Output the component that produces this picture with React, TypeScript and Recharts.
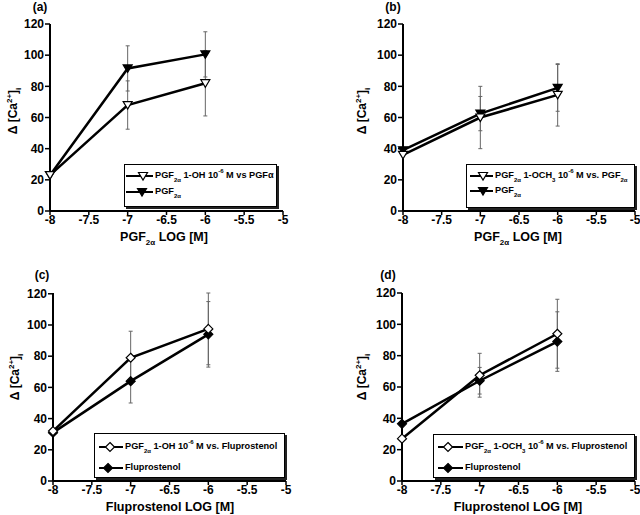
import { LineChart, Line, XAxis, YAxis, ErrorBar } from 'recharts';
import type { ReactNode, CSSProperties } from 'react';

const DOSES = [-8, -7, -6];
const X_TICKS = [-8, -7.5, -7, -6.5, -6, -5.5, -5];
const Y_TICKS = [0, 20, 40, 60, 80, 100, 120];

// (a) PGF2α 1-OH vs PGF2α
const A_OPEN = [23, 68, 82];
const A_OPEN_ERR = [0, 15.5, 21];
const A_FILLED = [23, 91.5, 100.5];
const A_FILLED_ERR = [0, 14.5, 14.5];

// (b) PGF2α 1-OCH3 vs PGF2α
const B_OPEN = [36, 60, 74.5];
const B_OPEN_ERR = [0, 20, 20];
const B_FILLED = [39, 62.5, 79];
const B_FILLED_ERR = [0, 11, 15];

// (c) PGF2α 1-OH vs fluprostenol
const C_OPEN = [32, 79, 97.5];
const C_OPEN_ERR = [0, 17, 23];
const C_FILLED = [31, 64, 94];
const C_FILLED_ERR = [0, 14, 21];

// (d) PGF2α 1-OCH3 vs fluprostenol
const D_OPEN = [27, 67.5, 94];
const D_OPEN_ERR = [0, 14, 22];
const D_FILLED = [36.5, 64, 89];
const D_FILLED_ERR = [0, 8.5, 19];

const FONT = '"Liberation Sans", Arial, sans-serif';
const Y_AXIS_W = 40;
const X_AXIS_H = 30;

type Shape = 'tri' | 'diamond';

function markerPath(shape: Shape, cx: number, cy: number) {
  if (shape === 'tri') {
    return `M${cx - 4.5},${cy - 3.5}L${cx + 4.5},${cy - 3.5}L${cx},${cy + 4}Z`;
  }
  return `M${cx},${cy - 4.5}L${cx + 4.5},${cy}L${cx},${cy + 4.5}L${cx - 4.5},${cy}Z`;
}

const makeDot = (shape: Shape, filled: boolean) => (props: any) => {
  const { cx, cy, index } = props;
  if (cx == null || cy == null) return <g key={index} />;
  return (
    <path
      key={index}
      d={markerPath(shape, cx, cy)}
      fill={filled ? '#000' : '#fff'}
      stroke="#000"
      strokeWidth={1.2}
    />
  );
};

const Sub = ({ children, size = 7 }: { children: ReactNode; size?: number }) => (
  <span style={{ fontSize: size, position: 'relative', top: 4 }}>{children}</span>
);
const Sup = ({ children, size = 7 }: { children: ReactNode; size?: number }) => (
  <span style={{ fontSize: size, position: 'relative', top: -5 }}>{children}</span>
);

const PGF = ({ size }: { size?: number }) => (
  <>
    PGF<Sub size={size}>2α</Sub>
  </>
);

interface PanelProps {
  left: number;
  top: number;
  width: number;
  height: number;
  plotLeft: number;
  plotRight: number;
  plotTop: number;
  plotBottom: number;
  open: number[];
  openErr: number[];
  filled: number[];
  filledErr: number[];
  shape: Shape;
}

function Panel(p: PanelProps) {
  const data = DOSES.map((x, i) => ({
    x,
    open: p.open[i],
    openErr: p.openErr[i],
    filled: p.filled[i],
    filledErr: p.filledErr[i],
  }));
  const margin = {
    top: p.plotTop,
    left: p.plotLeft - Y_AXIS_W,
    right: p.width - p.plotRight,
    bottom: p.height - p.plotBottom - X_AXIS_H,
  };
  const tickStyle = { fill: '#000', fontSize: 12, fontWeight: 700, fontFamily: FONT };
  return (
    <div style={{ position: 'absolute', left: p.left, top: p.top }}>
      <LineChart width={p.width} height={p.height} margin={margin} data={data}>
        <XAxis
          dataKey="x"
          type="number"
          domain={[-8, -5]}
          ticks={X_TICKS}
          height={X_AXIS_H}
          tickSize={4}
          tickMargin={0}
          interval={0}
          axisLine={{ stroke: '#000', strokeWidth: 2 }}
          tickLine={{ stroke: '#000', strokeWidth: 1.5 }}
          tick={tickStyle}
        />
        <YAxis
          type="number"
          domain={[0, 120]}
          ticks={Y_TICKS}
          width={Y_AXIS_W}
          tickSize={5}
          tickMargin={1}
          interval={0}
          axisLine={{ stroke: '#000', strokeWidth: 2 }}
          tickLine={{ stroke: '#000', strokeWidth: 1.5 }}
          tick={tickStyle}
        />
        <Line
          dataKey="filled"
          type="linear"
          stroke="#000"
          strokeWidth={2.5}
          dot={makeDot(p.shape, true)}
          isAnimationActive={false}
        >
          <ErrorBar dataKey="filledErr" direction="y" width={2} stroke="#666" strokeWidth={1} />
        </Line>
        <Line
          dataKey="open"
          type="linear"
          stroke="#000"
          strokeWidth={2.5}
          dot={makeDot(p.shape, false)}
          isAnimationActive={false}
        >
          <ErrorBar dataKey="openErr" direction="y" width={2} stroke="#666" strokeWidth={1} />
        </Line>
      </LineChart>
    </div>
  );
}

const centered = (x: number, y: number, extra: CSSProperties = {}): CSSProperties => ({
  position: 'absolute',
  left: x,
  top: y,
  transform: 'translate(-50%, -50%)',
  whiteSpace: 'nowrap',
  fontFamily: FONT,
  fontWeight: 700,
  color: '#000',
  lineHeight: 1,
  ...extra,
});

function Title({ x, y, text }: { x: number; y: number; text: string }) {
  return <div style={centered(x, y, { fontSize: 12 })}>{text}</div>;
}

function YLabel({ x, y }: { x: number; y: number }) {
  return (
    <div style={centered(x, y, { fontSize: 12, transform: 'translate(-50%, -50%) rotate(-90deg)' })}>
      Δ [Ca<Sup size={8}>2+</Sup>]<Sub size={8}>i</Sub>
    </div>
  );
}

function XLabel({ x, y, children }: { x: number; y: number; children: ReactNode }) {
  return <div style={centered(x, y, { fontSize: 12.5 })}>{children}</div>;
}

interface LegendRow {
  y: number;
  x1: number;
  x2: number;
  mx: number;
  filled: boolean;
  label: ReactNode;
}

function LegendBox({
  left,
  top,
  width,
  height,
  shape,
  rows,
}: {
  left: number;
  top: number;
  width: number;
  height: number;
  shape: Shape;
  rows: LegendRow[];
}) {
  return (
    <>
      <div
        style={{
          position: 'absolute',
          left,
          top,
          width,
          height,
          boxSizing: 'border-box',
          border: '1.5px solid #000',
          boxShadow: '2px 2px 0 #222',
          background: '#fff',
        }}
      />
      <svg
        width={640}
        height={515}
        style={{ position: 'absolute', left: 0, top: 0, pointerEvents: 'none' }}
      >
        {rows.map((r, i) => (
          <g key={i}>
            <line x1={r.x1} x2={r.x2} y1={r.y} y2={r.y} stroke="#000" strokeWidth={2} />
            <path
              d={markerPath(shape, r.mx, r.y)}
              fill={r.filled ? '#000' : '#fff'}
              stroke="#000"
              strokeWidth={1.2}
            />
          </g>
        ))}
      </svg>
      {rows.map((r, i) => (
        <div
          key={i}
          style={{
            position: 'absolute',
            left: r.x2 + 2,
            top: r.y,
            transform: 'translateY(-50%)',
            whiteSpace: 'nowrap',
            fontFamily: FONT,
            fontWeight: 700,
            fontSize: 9.2,
            lineHeight: 1,
            color: '#000',
          }}
        >
          {r.label}
        </div>
      ))}
    </>
  );
}

export default function App() {
  return (
    <div style={{ position: 'absolute', left: 0, top: 0, width: 640, height: 515, background: '#fff', overflow: 'hidden' }}>
      <Panel
        left={0}
        top={0}
        width={320}
        height={255}
        plotLeft={50}
        plotRight={283}
        plotTop={24}
        plotBottom={211}
        open={A_OPEN}
        openErr={A_OPEN_ERR}
        filled={A_FILLED}
        filledErr={A_FILLED_ERR}
        shape="tri"
      />
      <Panel
        left={320}
        top={0}
        width={320}
        height={255}
        plotLeft={83}
        plotRight={315}
        plotTop={24}
        plotBottom={211}
        open={B_OPEN}
        openErr={B_OPEN_ERR}
        filled={B_FILLED}
        filledErr={B_FILLED_ERR}
        shape="tri"
      />
      <Panel
        left={0}
        top={255}
        width={320}
        height={260}
        plotLeft={53}
        plotRight={286}
        plotTop={38}
        plotBottom={226}
        open={C_OPEN}
        openErr={C_OPEN_ERR}
        filled={C_FILLED}
        filledErr={C_FILLED_ERR}
        shape="diamond"
      />
      <Panel
        left={320}
        top={255}
        width={320}
        height={260}
        plotLeft={82}
        plotRight={315}
        plotTop={38}
        plotBottom={226}
        open={D_OPEN}
        openErr={D_OPEN_ERR}
        filled={D_FILLED}
        filledErr={D_FILLED_ERR}
        shape="diamond"
      />

      <Title x={40} y={7} text="(a)" />
      <Title x={393} y={7} text="(b)" />
      <Title x={42} y={275} text="(c)" />
      <Title x={388} y={275} text="(d)" />

      <YLabel x={13} y={111} />
      <YLabel x={362} y={111} />
      <YLabel x={15} y={377} />
      <YLabel x={362} y={377} />

      <XLabel x={164} y={237}>
        <PGF size={8} /> LOG [M]
      </XLabel>
      <XLabel x={518} y={237}>
        <PGF size={8} /> LOG [M]
      </XLabel>
      <XLabel x={170} y={507}>Fluprostenol LOG [M]</XLabel>
      <XLabel x={518} y={507}>Fluprostenol LOG [M]</XLabel>

      <LegendBox
        left={124}
        top={164}
        width={153}
        height={43}
        shape="tri"
        rows={[
          {
            y: 176,
            x1: 126,
            x2: 153,
            mx: 143,
            filled: false,
            label: (
              <>
                <PGF size={6} /> 1-OH 10<Sup size={6}>-6</Sup> M vs PGFα
              </>
            ),
          },
          { y: 192, x1: 126, x2: 153, mx: 142, filled: true, label: <PGF size={6} /> },
        ]}
      />
      <LegendBox
        left={466}
        top={164}
        width={169}
        height={44}
        shape="tri"
        rows={[
          {
            y: 176,
            x1: 470,
            x2: 493,
            mx: 483,
            filled: false,
            label: (
              <>
                <PGF size={6} /> 1-OCH<Sub size={6}>3</Sub> 10<Sup size={6}>-6</Sup> M vs. <PGF size={6} />
              </>
            ),
          },
          { y: 191, x1: 470, x2: 493, mx: 483, filled: true, label: <PGF size={6} /> },
        ]}
      />
      <LegendBox
        left={94}
        top={433}
        width={191}
        height={45}
        shape="diamond"
        rows={[
          {
            y: 447,
            x1: 99,
            x2: 123,
            mx: 110,
            filled: false,
            label: (
              <>
                <PGF size={6} /> 1-OH 10<Sup size={6}>-6</Sup> M vs. Fluprostenol
              </>
            ),
          },
          { y: 468, x1: 99, x2: 123, mx: 108, filled: true, label: 'Fluprostenol' },
        ]}
      />
      <LegendBox
        left={433}
        top={434}
        width={202}
        height={44}
        shape="diamond"
        rows={[
          {
            y: 447,
            x1: 438,
            x2: 463,
            mx: 448,
            filled: false,
            label: (
              <>
                <PGF size={6} /> 1-OCH<Sub size={6}>3</Sub> 10<Sup size={6}>-6</Sup> M vs. Fluprostenol
              </>
            ),
          },
          { y: 468, x1: 438, x2: 463, mx: 448, filled: true, label: 'Fluprostenol' },
        ]}
      />
    </div>
  );
}
